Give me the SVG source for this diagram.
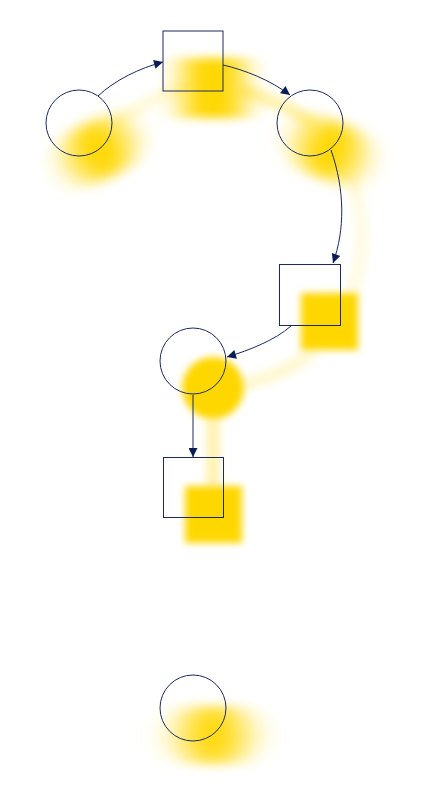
<svg xmlns="http://www.w3.org/2000/svg" width="438" height="800" viewBox="0 0 438 800">
<style>
.node{fill:none;stroke:#1a2a60;stroke-width:1}
.edge{fill:none;stroke:#1a2a60;stroke-width:1;marker-end:url(#arr)}
.glow{fill:#FFD700}
.gedge{fill:none;stroke:#FFD700;stroke-width:12;stroke-linecap:round}
</style>
<defs>
<marker id="arr" viewBox="0 0 10 10" refX="10" refY="5" markerWidth="13" markerHeight="9" markerUnits="userSpaceOnUse" orient="auto">
<path d="M0,0 L10,5 L0,10 z" fill="#0b1d55"/>
</marker>
<filter id="mb" x="-100%" y="-100%" width="300%" height="300%"><feGaussianBlur stdDeviation="16 6"/></filter>
<filter id="mbs" x="-100%" y="-100%" width="300%" height="300%"><feGaussianBlur stdDeviation="14 5"/></filter>
<filter id="mb2" x="-100%" y="-100%" width="300%" height="300%"><feGaussianBlur stdDeviation="19 5"/></filter>
<filter id="sb" x="-50%" y="-50%" width="200%" height="200%"><feGaussianBlur stdDeviation="3.5"/></filter>
<filter id="eb" x="-50%" y="-50%" width="200%" height="200%"><feGaussianBlur stdDeviation="5"/></filter>
</defs>
<g id="shadow" transform="translate(20,27)">
<g id="shadow-edges" filter="url(#eb)">
<path class="gedge" opacity="0.15" d="M98,96 C115,80 140,68 163,62"/>
<path class="gedge" opacity="0.35" d="M223,65 C245,70 270,80 290,95"/>
<path class="gedge" opacity="0.12" d="M331,150 C345,190 345,230 333,263"/>
<path class="gedge" opacity="0.2" d="M291,326 C275,340 250,350 227,357"/>
<path class="gedge" opacity="0.35" d="M193,395 L193,457"/>
</g>
<g transform="rotate(-25 79 123)"><circle class="glow" cx="79" cy="123" r="31" filter="url(#mb)"/></g>
<rect class="glow" x="163" y="31" width="60" height="60" filter="url(#mbs)"/>
<g transform="rotate(20 310 123)"><circle class="glow" cx="310" cy="123" r="31" filter="url(#mb)"/></g>
<rect class="glow" x="281" y="266" width="57" height="57" filter="url(#sb)"/>
<circle class="glow" cx="193" cy="361" r="31" filter="url(#sb)"/>
<rect class="glow" x="165" y="459" width="57" height="57" filter="url(#sb)"/>
<circle class="glow" cx="193" cy="708" r="31" filter="url(#mb2)"/>
</g>
<g id="connectors">
<path class="edge" d="M98,96 C115,80 140,68 163,62"/>
<path class="edge" d="M223,65 C245,70 270,80 290,95"/>
<path class="edge" d="M331,150 C345,190 345,230 333,263"/>
<path class="edge" d="M291,326 C275,340 250,350 227,357"/>
<path class="edge" d="M193,395 L193,457"/>
</g>
<g id="n1"><circle class="node" cx="79" cy="123" r="33"/></g>
<g id="n2"><rect class="node" x="163" y="31" width="60" height="60"/></g>
<g id="n3"><circle class="node" cx="310" cy="123" r="33"/></g>
<g id="n4"><rect class="node" x="279.5" y="264.5" width="61" height="61"/></g>
<g id="n5"><circle class="node" cx="193" cy="361" r="33"/></g>
<g id="n6"><rect class="node" x="163.5" y="457.5" width="60" height="60"/></g>
<g id="n7"><circle class="node" cx="193" cy="708" r="33"/></g>
</svg>
